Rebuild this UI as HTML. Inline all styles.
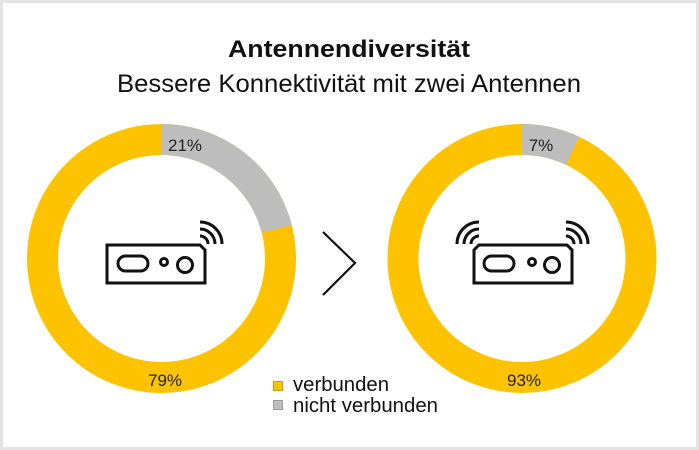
<!DOCTYPE html>
<html><head><meta charset="utf-8"><style>
html,body{margin:0;padding:0;background:#fff}
svg{display:block}
text{font-family:"Liberation Sans",sans-serif}
</style></head><body>
<svg width="699" height="450" viewBox="0 0 699 450" xmlns="http://www.w3.org/2000/svg">
<rect x="1.5" y="1.5" width="696" height="447" fill="#fff" stroke="#e4e4e4" stroke-width="3"/>
<text x="349" y="57" text-anchor="middle" font-size="24" font-weight="bold" fill="#111" textLength="242" lengthAdjust="spacingAndGlyphs">Antennendiversität</text>
<text x="349" y="92" text-anchor="middle" font-size="25" fill="#111" textLength="464" lengthAdjust="spacingAndGlyphs">Bessere Konnektivität mit zwei Antennen</text>

<g transform="translate(161.5,258.5) rotate(-90)">
<circle r="119" fill="none" stroke="#fdc300" stroke-width="31"/>
<circle r="119" fill="none" stroke="#bdbdbd" stroke-width="31" stroke-dasharray="157 1000"/>
</g>
<g transform="translate(522,258.5) rotate(-90)">
<circle r="119" fill="none" stroke="#fdc300" stroke-width="31"/>
<circle r="119" fill="none" stroke="#bdbdbd" stroke-width="31" stroke-dasharray="52.3 1000"/>
</g>
<text x="185" y="151" text-anchor="middle" font-size="17" fill="#222">21%</text>
<text x="165" y="386" text-anchor="middle" font-size="17" fill="#222">79%</text>
<text x="541" y="151" text-anchor="middle" font-size="17" fill="#222">7%</text>
<text x="524" y="386" text-anchor="middle" font-size="17" fill="#222">93%</text>

<polyline points="323,232 355,263 323,295" fill="none" stroke="#111" stroke-width="2.2"/>

<g fill="none" stroke="#111" stroke-width="3">
<path d="M107,245 H200 L205,250 V283 H107 Z"/>
<rect x="118" y="256" width="30" height="15" rx="7.5"/>
<circle cx="164" cy="262" r="3.5"/>
<circle cx="185" cy="265" r="7.5"/>
<path d="M200,236 A8,8 0 0 1 208,244"/>
<path d="M200,229 A15,15 0 0 1 215,244"/>
<path d="M200,222 A22,22 0 0 1 222,244"/>
</g>
<g fill="none" stroke="#111" stroke-width="3">
<path d="M479,245 H567 L572,250 V283 H474 V250 Z"/>
<rect x="484" y="256" width="30" height="15" rx="7.5"/>
<circle cx="532" cy="262" r="3.5"/>
<circle cx="552" cy="265" r="7.5"/>
<path d="M566,236 A8,8 0 0 1 574,244"/>
<path d="M566,229 A15,15 0 0 1 581,244"/>
<path d="M566,222 A22,22 0 0 1 588,244"/>
<path d="M479,236 A8,8 0 0 0 471,244"/>
<path d="M479,229 A15,15 0 0 0 464,244"/>
<path d="M479,222 A22,22 0 0 0 457,244"/>
</g>

<rect x="273.5" y="381.5" width="9" height="9" fill="#fdc300" stroke="#c9a000"/>
<rect x="273.5" y="400.5" width="9" height="9" fill="#bdbdbd" stroke="#999"/>
<text x="293" y="391" font-size="20" fill="#111" textLength="96" lengthAdjust="spacingAndGlyphs">verbunden</text>
<text x="293" y="412" font-size="20" fill="#111" textLength="145" lengthAdjust="spacingAndGlyphs">nicht verbunden</text>
</svg>
</body></html>
